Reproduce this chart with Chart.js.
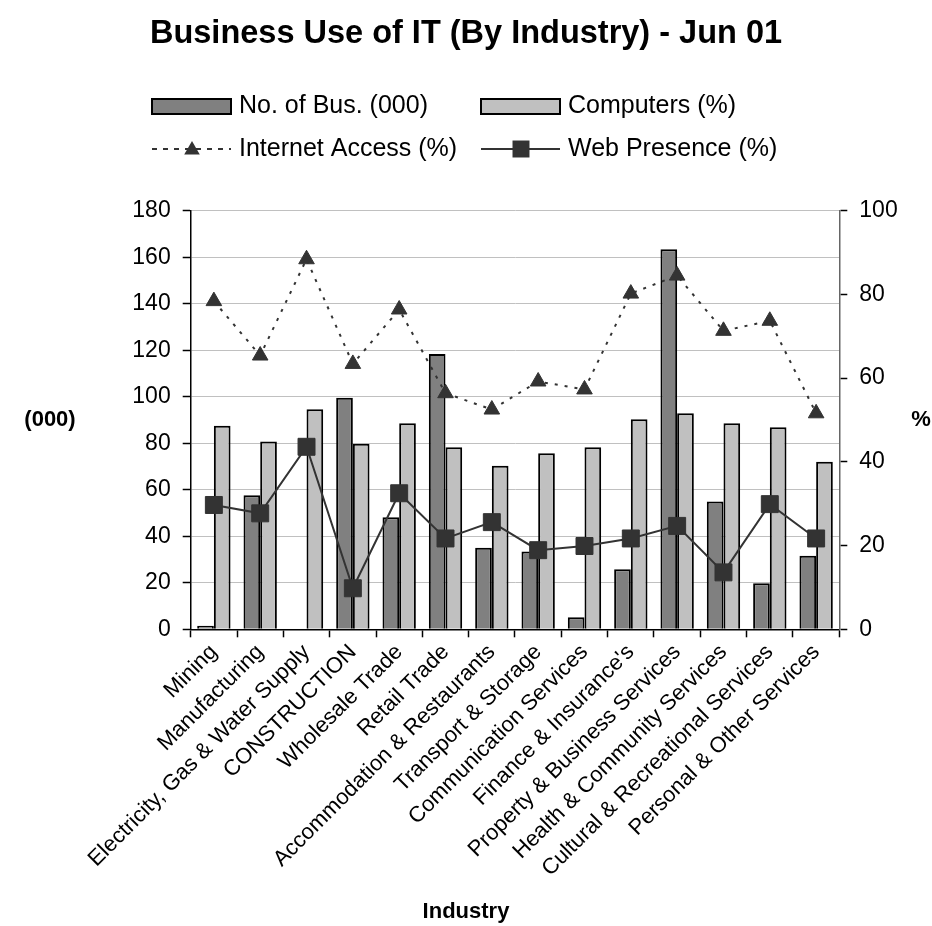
<!DOCTYPE html>
<html>
<head>
<meta charset="utf-8">
<title>Business Use of IT (By Industry) - Jun 01</title>
<script src="https://cdn.jsdelivr.net/npm/chart.js@4.4.1/dist/chart.umd.min.js"></script>
<style>
  html, body { margin: 0; padding: 0; background: #ffffff; }
  #wrap { width: 932px; height: 926px; position: relative; }
</style>
</head>
<body>
<div id="wrap"><canvas id="chart"></canvas></div>
<script>
// Industries along the category axis
const industries = [
  'Mining',
  'Manufacturing',
  'Electricity, Gas & Water Supply',
  'CONSTRUCTION',
  'Wholesale Trade',
  'Retail Trade',
  'Accommodation & Restaurants',
  'Transport & Storage',
  'Communication Services',
  "Finance & Insurance's",
  'Property & Business Services',
  'Health & Community Services',
  'Cultural & Recreational Services',
  'Personal & Other Services'
];

// Number of businesses, thousands (left axis)
const businessesK = [1.5, 57.6, 0, 99.6, 48.2, 118.4, 35.1, 33.5, 5.2, 25.8, 163.4, 55.0, 19.8, 31.6];
// Businesses using computers, % (plotted against the left axis)
const computersPct = [87.5, 80.8, 94.6, 79.8, 88.6, 78.3, 70.3, 75.7, 78.3, 90.3, 92.9, 88.6, 86.9, 72.1];
// Businesses with internet access, % (right axis)
const internetPct = [78.4, 65.4, 88.4, 63.4, 76.4, 56.4, 52.5, 59.2, 57.3, 80.2, 84.5, 71.3, 73.7, 51.6];
// Businesses with a web presence, % (right axis)
const webPct = [29.7, 27.7, 43.6, 9.8, 32.5, 21.7, 25.6, 18.9, 19.9, 21.7, 24.7, 13.6, 29.9, 21.7];

// Axis tick values
const leftTicks = [0, 20, 40, 60, 80, 100, 120, 140, 160, 180];
const rightTicks = [0, 20, 40, 60, 80, 100];

const chartTitle = 'Business Use of IT (By Industry) - Jun 01';
const leftAxisTitle = '(000)';
const rightAxisTitle = '%';
const categoryAxisTitle = 'Industry';

const FONT = '"Liberation Sans", Arial, Helvetica, sans-serif';

// Title, two-row legend and horizontal axis titles
const decorations = {
  id: 'decorations',
  afterDraw(chart) {
    const ctx = chart.ctx;
    const ds = chart.data.datasets;
    ctx.save();
    ctx.fillStyle = '#000';
    ctx.textBaseline = 'middle';

    ctx.textAlign = 'center';
    ctx.font = 'bold 32.5px ' + FONT;
    ctx.fillText(chartTitle, 466, 34);

    ctx.font = 'bold 22px ' + FONT;
    ctx.fillText(leftAxisTitle, 50, 420);
    ctx.fillText(rightAxisTitle, 921, 420);
    ctx.fillText(categoryAxisTitle, 466, 912);

    // legend: 2 x 2 grid
    const cols = [152, 481];
    const rows = [106.5, 149];
    const swW = 79;
    ds.forEach((d, i) => {
      const x = cols[i % 2];
      const y = rows[Math.floor(i / 2)];
      ctx.save();
      if (d.type === 'line') {
        ctx.strokeStyle = d.borderColor;
        ctx.lineWidth = d.borderWidth;
        ctx.setLineDash(d.borderDash ? [5, 6] : []);
        ctx.beginPath();
        ctx.moveTo(x, y);
        ctx.lineTo(x + swW, y);
        ctx.stroke();
        ctx.setLineDash([]);
        ctx.fillStyle = d.pointBackgroundColor;
        const cx = x + 40;
        if (d.pointStyle === 'triangle') {
          const r = d.pointRadius;
          ctx.beginPath();
          ctx.moveTo(cx, y + 1 - r);
          ctx.lineTo(cx + r * 0.866, y + 1 + r / 2);
          ctx.lineTo(cx - r * 0.866, y + 1 + r / 2);
          ctx.closePath();
          ctx.fill();
        } else {
          const s = d.pointRadius * Math.SQRT1_2;
          ctx.fillRect(cx - s, y - s, 2 * s, 2 * s);
        }
      } else {
        ctx.fillStyle = d.backgroundColor;
        ctx.strokeStyle = d.borderColor;
        ctx.lineWidth = d.borderWidth;
        ctx.fillRect(x, y - 7.5, swW, 15);
        ctx.strokeRect(x, y - 7.5, swW, 15);
      }
      ctx.restore();
      ctx.textAlign = 'left';
      ctx.font = '25px ' + FONT;
      ctx.fillStyle = '#000';
      ctx.fillText(d.label, x + 87, y);
    });
    ctx.restore();
  }
};

new Chart(document.getElementById('chart'), {
  data: {
    labels: industries,
    datasets: [
      {
        type: 'bar',
        label: 'No. of Bus. (000)',
        data: businessesK,
        yAxisID: 'y',
        backgroundColor: '#808080',
        borderColor: '#000000',
        borderWidth: 2,
        categoryPercentage: 0.72,
        barPercentage: 1.0,
        order: 2
      },
      {
        type: 'bar',
        label: 'Computers (%)',
        data: computersPct,
        yAxisID: 'y',
        backgroundColor: '#c0c0c0',
        borderColor: '#000000',
        borderWidth: 2,
        categoryPercentage: 0.72,
        barPercentage: 1.0,
        order: 2
      },
      {
        type: 'line',
        label: 'Internet Access (%)',
        data: internetPct,
        yAxisID: 'y1',
        borderColor: '#333333',
        borderWidth: 2,
        borderDash: [3, 7],
        tension: 0,
        pointStyle: 'triangle',
        pointRadius: 9,
        pointHoverRadius: 9,
        pointBackgroundColor: '#333333',
        pointBorderColor: '#333333',
        pointBorderWidth: 1,
        order: 1
      },
      {
        type: 'line',
        label: 'Web Presence (%)',
        data: webPct,
        yAxisID: 'y1',
        borderColor: '#333333',
        borderWidth: 2,
        tension: 0,
        pointStyle: 'rect',
        pointRadius: 12,
        pointHoverRadius: 12,
        pointBackgroundColor: '#333333',
        pointBorderColor: '#333333',
        pointBorderWidth: 1,
        order: 0
      }
    ]
  },
  options: {
    responsive: true,
    maintainAspectRatio: false,
    animation: false,
    events: [],
    layout: { padding: { top: 210.7, left: 0, right: 0, bottom: 0 } },
    plugins: {
      legend: { display: false },
      title: { display: false },
      tooltip: { enabled: false }
    },
    scales: {
      x: {
        type: 'category',
        offset: true,
        grid: {
          offset: true,
          drawOnChartArea: false,
          drawTicks: true,
          tickLength: 8,
          tickColor: '#000000',
          tickWidth: 1.5
        },
        border: { display: true, color: '#000000', width: 1.5 },
        ticks: {
          autoSkip: false,
          minRotation: 45,
          maxRotation: 45,
          padding: 2,
          color: '#000000',
          font: { family: FONT, size: 22 }
        },
        afterFit(scale) { scale.height = 926 - 629.3; }
      },
      y: {
        type: 'linear',
        position: 'left',
        min: 0,
        max: 180,
        afterBuildTicks(scale) { scale.ticks = leftTicks.map(v => ({ value: v })); },
        grid: {
          color: '#c0c0c0',
          lineWidth: 1,
          drawTicks: true,
          tickLength: 8,
          tickColor: '#000000',
          tickWidth: 1.5
        },
        border: { display: true, color: '#000000', width: 1.5 },
        ticks: {
          padding: 12,
          color: '#000000',
          font: { family: FONT, size: 23 }
        },
        afterFit(scale) { scale.width = 190.7; }
      },
      y1: {
        type: 'linear',
        position: 'right',
        min: 0,
        max: 100,
        afterBuildTicks(scale) { scale.ticks = rightTicks.map(v => ({ value: v })); },
        grid: {
          drawOnChartArea: false,
          drawTicks: true,
          tickLength: 8,
          tickColor: '#000000',
          tickWidth: 1.5
        },
        border: { display: true, color: '#666666', width: 1.5 },
        ticks: {
          padding: 12,
          color: '#000000',
          font: { family: FONT, size: 23 }
        },
        afterFit(scale) { scale.width = 932 - 839.3; }
      }
    }
  },
  plugins: [decorations]
});
</script>
</body>
</html>
